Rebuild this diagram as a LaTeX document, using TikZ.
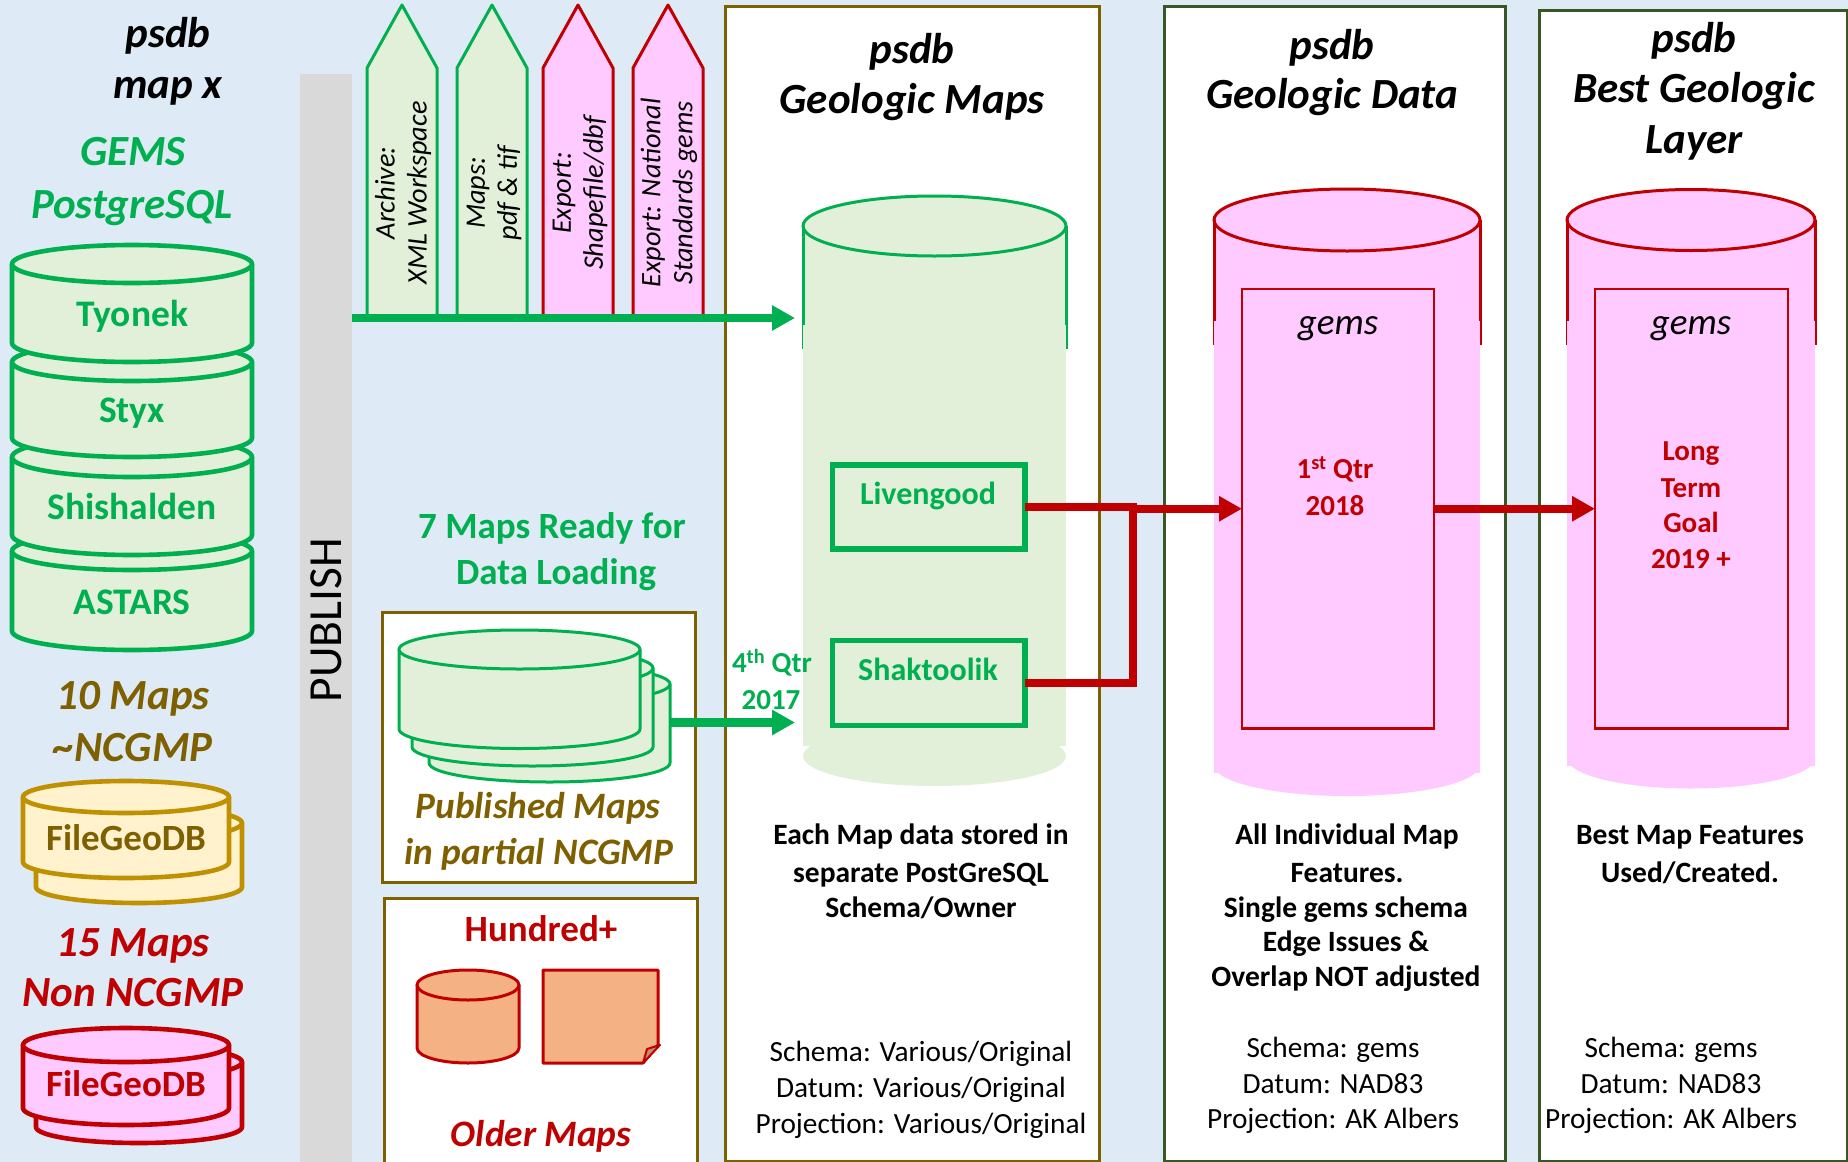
\documentclass[tikz,border=0pt]{standalone}
\usepackage{fontspec}
\setmainfont{Carlito}
\usetikzlibrary{arrows.meta}
\definecolor{bgblue}{HTML}{DEEAF6}
\definecolor{grn}{HTML}{00B050}
\definecolor{lgrn}{HTML}{E2F0D9}
\definecolor{red2}{HTML}{C00000}
\definecolor{pink2}{HTML}{FFCAFF}
\definecolor{olive}{HTML}{7F6000}
\definecolor{gold}{HTML}{BF9000}
\definecolor{cream}{HTML}{FFF2CC}
\definecolor{peach}{HTML}{F4B183}
\definecolor{dgrn}{HTML}{385723}
\definecolor{barg}{HTML}{D9D9D9}
\newcommand{\fsz}[1]{\fontsize{#1pt}{#1pt}\selectfont}
% name, style, cx, ytop, rx, ry, ybot
\newcommand{\dbcyl}[7]{%
  \pgfmathsetmacro\xl{#3-#5}\pgfmathsetmacro\xr{#3+#5}%
  \pgfmathsetmacro\xka{#3-.5523*#5}\pgfmathsetmacro\xkb{#3+.5523*#5}%
  \pgfmathsetmacro\yka{#7+.5523*#6}\pgfmathsetmacro\ykb{#7+#6}%
  \filldraw[#2] (\xl,#4) -- (\xl,#7) .. controls (\xl,\yka) and (\xka,\ykb) .. (#3,\ykb)
     .. controls (\xkb,\ykb) and (\xr,\yka) .. (\xr,#7) -- (\xr,#4) -- cycle;
  \filldraw[#2] (#3,#4) ellipse [x radius=#5, y radius=#6];
  \coordinate (#1) at (#3,#4);}
% name, style, x1,y1,x2,y2
\newcommand{\boxnode}[6]{%
  \pgfmathsetmacro\bw{#5-#3}\pgfmathsetmacro\bh{#6-#4}%
  \pgfmathsetmacro\bx{(#3+#5)/2}\pgfmathsetmacro\by{(#4+#6)/2}%
  \node[#2,minimum width=\bw pt,minimum height=\bh pt,inner sep=0pt,outer sep=0pt] (#1) at (\bx,\by) {};}
% style, x1, x2
\newcommand{\pent}[3]{%
  \pgfmathsetmacro\xm{(#2+#3)/2}%
  \filldraw[#1] (#2,317) -- (#2,68) -- (\xm,5) -- (#3,68) -- (#3,317) -- cycle;}
% big cylinder: fill colour, stroke, cx, rx, ytop, ry, fill end, bottom ellipse centre, line end
\newcommand{\bigcyl}[9]{%
  \pgfmathsetmacro\xl{#3-#4}\pgfmathsetmacro\xr{#3+#4}%
  \pgfmathsetmacro\xlo{#3-#4-0.8}\pgfmathsetmacro\xro{#3+#4+0.8}%
  \pgfmathsetmacro\ym{#9-24}%
  \fill[#1] (\xl,#5) rectangle (\xr,#7);
  \fill[#1] (#3,#8) ellipse [x radius=#4, y radius=#6];
  \filldraw[fill=#1,draw=#2,line width=3pt] (#3,#5) ellipse [x radius=#4, y radius=#6];
  \draw[#2,line width=3pt] (\xl,#5) -- (\xl,\ym) (\xr,#5) -- (\xr,\ym);
  \draw[#2,line width=1.4pt] (\xlo,\ym) -- (\xlo,#9) (\xro,\ym) -- (\xro,#9);}
\tikzset{
  lab/.style={anchor=mid,inner sep=0pt,outer sep=0pt},
  ttl/.style={lab,yshift=-12pt,font=\fsz{43}\bfseries\itshape},
  side/.style={lab,yshift=-12pt,font=\fsz{43}\bfseries\itshape},
  inner/.style={lab,yshift=-10.5pt,font=\fsz{37.5}\bfseries,text=grn},
  innerb/.style={lab,yshift=-8.5pt,font=\fsz{32}\bfseries,text=grn},
  fgdb/.style={lab,yshift=-10.5pt,font=\fsz{37}\bfseries},
  bod/.style={lab,yshift=-7pt,font=\fsz{29.5}\bfseries},
  plain/.style={lab,yshift=-8pt,font=\fsz{29.3}},
  qtr/.style={lab,yshift=-7pt,font=\fsz{29}\bfseries,text=red2},
  gemsl/.style={lab,yshift=-9.5pt,font=\fsz{37}\itshape},
  biglab/.style={lab,yshift=-10pt,font=\fsz{37}\bfseries},
  bigital/.style={lab,yshift=-9.5pt,font=\fsz{37.3}\bfseries\itshape},
  pentl/.style={rotate=90,inner sep=0pt,outer sep=0pt,align=center,font=\fontsize{28.3pt}{32pt}\selectfont\itshape,anchor=center},
  gcyl/.style={fill=lgrn,draw=grn,line width=4.6pt,line join=round},
  ycyl/.style={fill=cream,draw=gold,line width=4.6pt,line join=round},
  pcyl/.style={fill=pink2,draw=red2,line width=4.6pt,line join=round},
  g2cyl/.style={fill=lgrn,draw=grn,line width=3pt,line join=round},
  ocyl/.style={fill=peach,draw=red2,line width=3pt,line join=round},
  gpent/.style={fill=lgrn,draw=grn,line width=3pt,line join=round},
  ppent/.style={fill=pink2,draw=red2,line width=3pt,line join=round},
  opanel/.style={draw=olive,fill=white,line width=3pt},
  dpanel/.style={draw=dgrn,fill=white,line width=3pt},
  sbox/.style={draw=olive,fill=white,line width=3pt},
  gbox/.style={draw=grn,line width=5.6pt},
  rbox/.style={draw=red2,line width=2.8pt},
  garrow/.style={draw=grn,line width=8.5pt,-{Triangle[length=23pt,width=24pt,fill=grn]}},
  rarrow/.style={draw=red2,line width=8pt,-{Triangle[length=23pt,width=24pt,fill=red2]}},
  rline/.style={draw=red2,line width=8pt,line join=miter},
}
\begin{document}
\begin{tikzpicture}[x=1pt,y=-1pt]
\useasboundingbox (0,0) rectangle (1848,1162);
\fill[bgblue] (0,0) rectangle (1848,1162);
% publish bar
\node[fill=barg,rotate=90,minimum width=1092pt,minimum height=52pt,inner sep=0pt,outer sep=0pt,font=\fsz{47.5},anchor=center] (pub) at (326,620) {PUBLISH};
% left column
\node[ttl] (t0a) at (168,33) {psdb};
\node[ttl] (t0b) at (168,84) {map x};
\node[side,text=grn] (tga) at (133,151) {GEMS};
\node[side,text=grn] (tgb) at (132,204) {PostgreSQL};
\dbcyl{c4}{gcyl}{132}{551}{120}{19}{631}
\dbcyl{c3}{gcyl}{132}{457}{120}{20}{535}
\dbcyl{c2}{gcyl}{132}{362}{120}{19}{438}
\dbcyl{c1}{gcyl}{132}{264}{120}{19}{343}
\node[inner] (nty) at (132,314) {Tyonek};
\node[inner] (nst) at (132,410) {Styx};
\node[inner] (nsh) at (132,507) {Shishalden};
\node[inner] (nas) at (132,602) {ASTARS};
\node[side,text=olive] (t10a) at (133,695) {10 Maps};
\node[side,text=olive] (t10b) at (133,747) {\textasciitilde NCGMP};
\dbcyl{y2}{ycyl}{139}{823}{103}{16}{887}
\dbcyl{y1}{ycyl}{126}{797}{103}{16}{862}
\node[fgdb,text=olive] (fy) at (126,838) {FileGeoDB};
\node[side,text=red2] (t15a) at (133,942) {15 Maps};
\node[side,text=red2] (t15b) at (133,992) {Non NCGMP};
\dbcyl{r2}{pcyl}{139}{1062}{103}{16}{1127}
\dbcyl{r1}{pcyl}{126}{1045}{103}{17}{1108}
\node[fgdb,text=red2] (fr) at (126,1084) {FileGeoDB};
% panels
\boxnode{p1}{opanel}{725}{6}{1099}{1161}
\boxnode{p2}{dpanel}{1164}{6}{1505}{1161}
\boxnode{p3}{dpanel}{1539}{10}{1847}{1161}
% export pentagons
\pent{gpent}{367}{437}
\pent{gpent}{457}{527}
\pent{ppent}{543}{613}
\pent{ppent}{633}{703}
\node[pentl] (pa) at (403,193) {Archive:\\XML Workspace};
\node[pentl] (pb) at (494,193) {Maps:\\pdf \& tif};
\node[pentl] (pc) at (580,193) {Export:\\Shapefile/dbf};
\node[pentl] (pd) at (669,193) {Export: National\\Standards gems};
% titles
\node[ttl] (tp1a) at (912,49) {psdb};
\node[ttl] (tp1b) at (912,99) {Geologic Maps};
\node[ttl] (tp2a) at (1332,45) {psdb};
\node[ttl] (tp2b) at (1332,94) {Geologic Data};
\node[ttl] (tp3a) at (1694,38) {psdb};
\node[ttl] (tp3b) at (1694,88) {Best Geologic};
\node[ttl] (tp3c) at (1694,139) {Layer};
% big cylinders
\bigcyl{lgrn}{grn}{934.5}{131.5}{226}{30}{746}{756}{349}
\bigcyl{pink2}{red2}{1347}{133}{220}{31}{773}{765}{345}
\bigcyl{pink2}{red2}{1691}{124}{220}{30.5}{766}{758}{345}
% boxes in cylinders
\boxnode{liv}{gbox}{832.5}{465}{1024.7}{549}
\boxnode{sha}{gbox}{832.5}{640.5}{1024.7}{725.5}
\node[innerb] (nliv) at (928,494) {Livengood};
\node[innerb] (nsha) at (928,670) {Shaktoolik};
\boxnode{g2}{rbox}{1242}{289}{1434}{728.5}
\boxnode{g3}{rbox}{1595}{289}{1788}{728.5}
\node[gemsl] (tg2) at (1338,323) {gems};
\node[gemsl] (tg3) at (1691,323) {gems};
\node[qtr] (q1) at (1335,469) {1\textsuperscript{st} Qtr};
\node[qtr] (q2) at (1335,506) {2018};
\node[qtr] (q3) at (1691,451) {Long};
\node[qtr] (q4) at (1691,488) {Term};
\node[qtr] (q5) at (1691,523) {Goal};
\node[qtr] (q6) at (1691,559) {2019 +};
% published box
\boxnode{bp}{sbox}{382}{612.5}{695}{882}
\dbcyl{s3}{g2cyl}{549.5}{684}{120.5}{19}{763}
\dbcyl{s2}{g2cyl}{532.5}{668}{120.5}{19}{747}
\dbcyl{s1}{g2cyl}{519.5}{649.5}{120.5}{19.5}{729}
\node[biglab,text=grn] (m7a) at (552,526) {7 Maps Ready for};
\node[biglab,text=grn] (m7b) at (556,572) {Data Loading};
\node[bigital,text=olive] (pm1) at (538,807) {Published Maps};
\node[bigital,text=olive] (pm2) at (539,853) {in partial NCGMP};
% hundred box
\boxnode{bh}{sbox}{384}{898}{697}{1170}
\node[biglab,text=red2] (h1) at (541,929) {Hundred+};
\dbcyl{oc}{ocyl}{468}{985}{51}{15}{1048}
\filldraw[ocyl] (543,970) -- (658,970) -- (658,1045) -- (643,1063) -- (543,1063) -- cycle;
\filldraw[fill=peach!80!black,draw=red2,line width=2pt,line join=round] (643,1063) -- (647,1049) -- (660,1045) -- cycle;
\node[bigital,text=red2] (h2) at (541,1135) {Older Maps};
% quarter labels
\node[qtr,text=grn] (q41) at (772,663) {4\textsuperscript{th} Qtr};
\node[qtr,text=grn] (q42) at (771,700) {2017};
% body text
\node[bod] (b1) at (921,835) {Each Map data stored in};
\node[bod] (b2) at (921,873) {separate PostGreSQL};
\node[bod] (b3) at (921,908) {Schema/Owner};
\node[plain] (d1) at (921,1051) {Schema: Various/Original};
\node[plain] (d2) at (921,1087) {Datum: Various/Original};
\node[plain] (d3) at (921,1123) {Projection: Various/Original};
\node[bod] (e1) at (1347,835) {All Individual Map};
\node[bod] (e2) at (1347,873) {Features.};
\node[bod] (e3) at (1346,908) {Single gems schema};
\node[bod] (e4) at (1346,942) {Edge Issues \&};
\node[bod] (e5) at (1346,977) {Overlap NOT adjusted};
\node[plain] (f1) at (1333,1047) {Schema: gems};
\node[plain] (f2) at (1333,1083) {Datum: NAD83};
\node[plain] (f3) at (1333,1118) {Projection: AK Albers};
\node[bod] (k1) at (1690,835) {Best Map Features};
\node[bod] (k2) at (1690,873) {Used/Created.};
\node[plain] (l1) at (1671,1047) {Schema: gems};
\node[plain] (l2) at (1671,1083) {Datum: NAD83};
\node[plain] (l3) at (1671,1118) {Projection: AK Albers};
% connectors
\coordinate (pubout) at (352,318);
\coordinate (tip1) at (795,318);
\draw[garrow] (pubout) -- (tip1);
\coordinate (stackout) at (670,722.5);
\coordinate (tip2) at (795,722.5);
\draw[garrow] (stackout) -- (tip2);
\coordinate (jx) at (1133,0);
\coordinate (junc) at (liv.east -| jx);
\draw[rline] (liv.east) -- (junc) -- (junc |- sha.east) -- (sha.east);
\draw[rarrow] (junc |- g2.west) -- (g2.west);
\draw[rarrow] (g2.east) -- (g3.west);
\end{tikzpicture}
\end{document}
